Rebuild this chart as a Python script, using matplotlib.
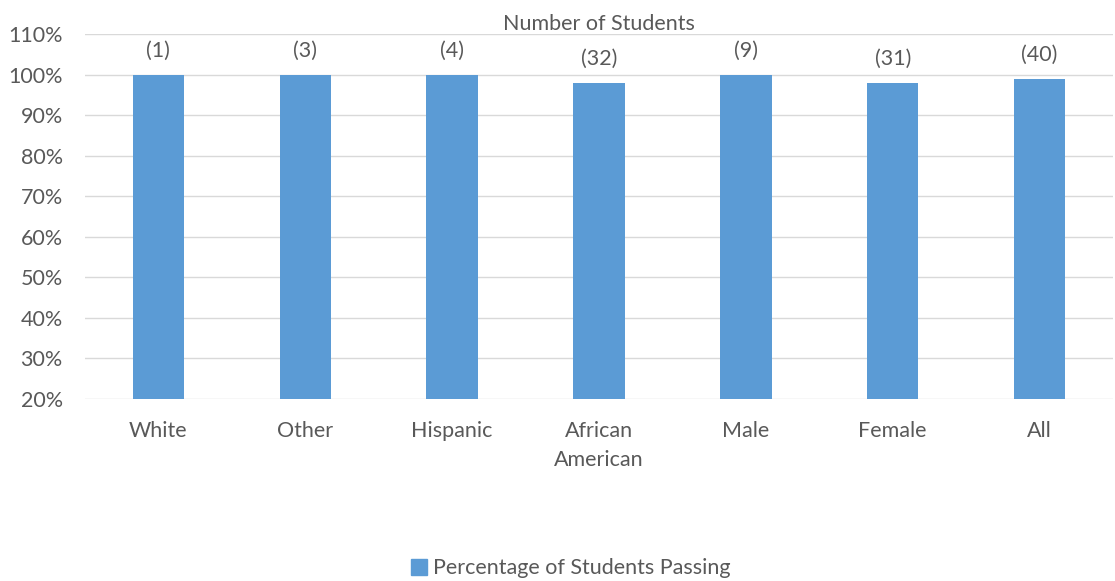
import numpy as np
import matplotlib.pyplot as plt
from matplotlib.patches import Patch

# data
groups = ["White", "Other", "Hispanic", "African\nAmerican", "Male", "Female", "All"]
pct_passing = [100, 100, 100, 98, 100, 98, 99]
n_students = [1, 3, 4, 32, 9, 31, 40]

BAR = "#5B9BD5"
TXT = "#595959"
GRID = "#D9D9D9"
FS = 15.5

plt.rcParams["font.family"] = ["Lato", "DejaVu Sans"]

fig = plt.figure(figsize=(11.15, 5.81), dpi=100)
ax = fig.add_axes([0.0762, 0.3133, 0.922, 0.6282])

x = np.arange(len(groups))
ax.bar(x, pct_passing, width=0.35, color=BAR, zorder=2)
for xi, v, n in zip(x, pct_passing, n_students):
    ax.annotate(f"({n})", (xi, v), xytext=(0, 17), textcoords="offset points",
                ha="center", va="center", fontsize=FS, color=TXT)

ax.set_xlim(-0.5, len(groups) - 0.5)
ax.set_ylim(20, 110)
ax.set_yticks(np.arange(20, 111, 10))
ax.set_yticklabels([f"{t}%" for t in range(20, 111, 10)])
ax.set_xticks(x)
ax.set_xticklabels(groups, linespacing=1.55)
ax.tick_params(axis="both", length=0, labelsize=FS, colors=TXT)
ax.tick_params(axis="x", pad=16)
ax.tick_params(axis="y", pad=16)
ax.grid(axis="y", color=GRID, lw=1, zorder=0)
for s in ax.spines.values():
    s.set_visible(False)

ax.set_title("Number of Students", fontsize=FS, color=TXT, pad=3)

fig.legend(handles=[Patch(color=BAR, label="Percentage of Students Passing")],
           loc="center", bbox_to_anchor=(0.512, 0.022), frameon=False,
           fontsize=FS, labelcolor=TXT, handlelength=0.75, handleheight=0.75,
           handletextpad=0.3)

fig.savefig("out.png", dpi=100)
